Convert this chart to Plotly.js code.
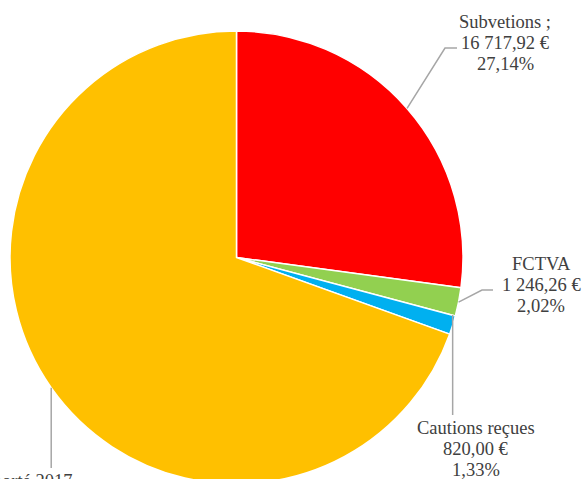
<!DOCTYPE html>
<html>
<head>
<meta charset="utf-8">
<script src="https://cdn.plot.ly/plotly-3.0.1.min.js"></script>
<style>
html,body{margin:0;padding:0;overflow:hidden;background:#fff;}
#chart{width:587px;height:500px;}
</style>
</head>
<body>
<div id="chart"></div>
<script>
// Data
const labels = ["Subvetions ;", "FCTVA", "Cautions reçues", "Excédent reporté 2017"];
const values = [16717.92, 1246.26, 820.00, 42814.00];
const colors = ["#FF0000", "#92D050", "#00B0F0", "#FFC000"];

// Layout geometry (pixels)
const W = 587, H = 500;
const L = 10, T = 31, PW = 453, PH = 453;
const cx = L + PW / 2, cy = T + PH / 2, R = PW / 2;

function px(x) { return (x - L) / PW; }
function py(y) { return 1 - (y - T) / PH; }

function fmtEuro(v) {
  const parts = v.toFixed(2).split(".");
  const intPart = parts[0].replace(/\B(?=(\d{3})+(?!\d))/g, " ");
  return intPart + "," + parts[1] + " €";
}
function fmtPct(p) { return p.toFixed(2).replace(".", ",") + "%"; }

const total = values.reduce((a, b) => a + b, 0);

// mid-angle edge points (clockwise from 12 o'clock)
let cum = 0;
const edge = values.map(v => {
  const mid = (cum + v / 2) / total * 2 * Math.PI;
  cum += v;
  return [cx + R * Math.sin(mid), cy - R * Math.cos(mid)];
});

// Leader line paths and label centers
const leader = [
  e => [[e[0], e[1]], [445, 48], [457, 48]],
  e => [[e[0], e[1]], [482, 290], [493, 290]],
  e => [[e[0], 315], [e[0], 415]],
  e => [[e[0], e[1]], [e[0], 468]]
];
const labelPos = [
  {x: 505, y: 22},
  {x: 541, y: 264},
  {x: 476, y: 428},
  {x: -12, y: 481}
];
const lineGap = 21;

const shapes = [];
const annotations = [];
values.forEach((v, i) => {
  const pts = leader[i](edge[i]);
  const path = pts.map((p, k) => (k ? "L" : "M") + px(p[0]) + "," + py(p[1])).join(" ");
  shapes.push({type: "path", xref: "paper", yref: "paper", path: path,
    line: {color: "#A6A6A6", width: 1.5}});
  const lines = [labels[i], fmtEuro(v), fmtPct(v / total * 100)];
  lines.forEach((t, k) => {
    annotations.push({
      xref: "paper", yref: "paper",
      x: px(labelPos[i].x), y: py(labelPos[i].y + k * lineGap),
      xanchor: "center", yanchor: "middle",
      text: t, showarrow: false,
      font: {family: "Liberation Serif, Georgia, serif", size: 18.5, color: "#404040"}
    });
  });
});

const trace = {
  type: "pie",
  labels: labels,
  values: values,
  sort: false,
  direction: "clockwise",
  rotation: 0,
  textinfo: "none",
  hoverinfo: "label+value+percent",
  marker: {colors: colors, line: {color: "#FFFFFF", width: 1.5}},
  showlegend: false
};

Plotly.newPlot("chart", [trace], {
  width: W, height: H,
  margin: {l: L, r: W - L - PW, t: T, b: H - T - PH, autoexpand: false},
  paper_bgcolor: "#FFFFFF",
  plot_bgcolor: "#FFFFFF",
  showlegend: false,
  shapes: shapes,
  annotations: annotations
}, {displayModeBar: false, staticPlot: true});
</script>
</body>
</html>
